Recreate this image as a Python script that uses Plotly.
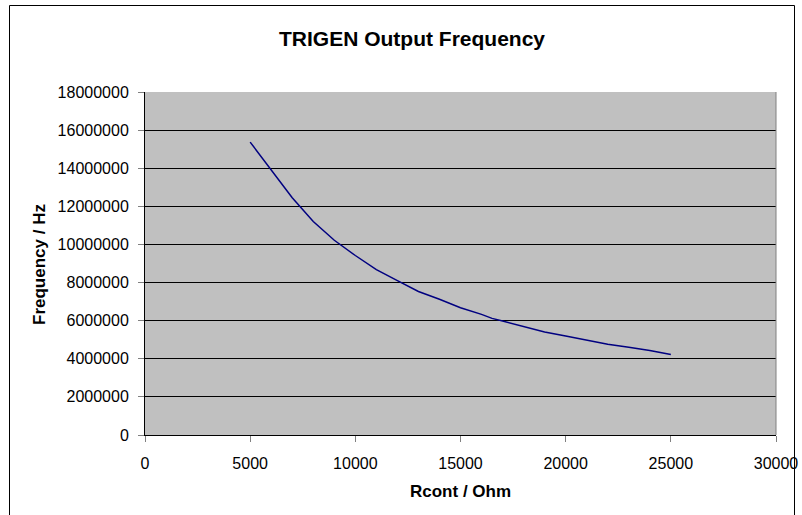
import plotly.graph_objects as go

# Data
rcont_ohm = [5000, 6000, 7000, 8000, 9000, 10000, 11000, 12000, 13000, 14000,
             15000, 16000, 16500, 17000, 18000, 19000, 20000, 21000, 22000,
             23000, 24000, 25000]
freq_hz = [15370000, 13920000, 12450000, 11200000, 10220000, 9420000, 8680000,
           8100000, 7530000, 7120000, 6680000, 6330000, 6120000, 5980000,
           5680000, 5410000, 5200000, 4970000, 4760000, 4600000, 4440000,
           4220000]

title_text = "TRIGEN Output Frequency"
x_title = "Rcont / Ohm"
y_title = "Frequency / Hz"
x_ticks = [0, 5000, 10000, 15000, 20000, 25000, 30000]
y_ticks = [0, 2000000, 4000000, 6000000, 8000000, 10000000, 12000000,
           14000000, 16000000, 18000000]

FONT = "Liberation Sans, Arial, sans-serif"

W, H = 802, 515
L, R, T, B = 145, 776, 92, 435
pw, ph = R - L, B - T


def px_x(p):
    return (p - L) / pw


def px_y(p):
    return (B - p) / ph


fig = go.Figure()
fig.add_trace(go.Scatter(x=rcont_ohm, y=freq_hz, mode="lines",
                         line=dict(color="#000080", width=1.5),
                         showlegend=False, hoverinfo="x+y"))

fig.update_layout(
    width=W, height=H,
    autosize=False,
    margin=dict(l=L, r=W - R, t=T, b=H - B, pad=0),
    paper_bgcolor="white",
    plot_bgcolor="#C0C0C0",
    font=dict(family=FONT, size=16, color="black"),
    showlegend=False,
)

fig.update_xaxes(range=[0, 30000], tickvals=x_ticks, tickformat="d",
                 showgrid=False, zeroline=False, automargin=False,
                 ticklabeloverflow="allow",
                 showline=True, linecolor="black", linewidth=1,
                 ticks="outside", ticklen=6, tickcolor="#808080", tickwidth=1,
                 ticklabelstandoff=8,
                 tickfont=dict(family=FONT, size=16, color="black"))
fig.update_yaxes(range=[0, 18000000], tickvals=y_ticks, tickformat="d",
                 showgrid=True, gridcolor="black", gridwidth=1,
                 zeroline=False, automargin=False,
                 ticklabeloverflow="allow",
                 showline=True, linecolor="black", linewidth=1,
                 ticks="outside", ticklen=6, tickcolor="#808080", tickwidth=1,
                 ticklabelstandoff=6,
                 tickfont=dict(family=FONT, size=16, color="black"))

# right border of plot area (gray)
fig.add_shape(type="line", xref="paper", yref="paper", x0=1, x1=1, y0=0, y1=1,
              line=dict(color="#808080", width=1))
# outer chart border
fig.add_shape(type="rect", xref="paper", yref="paper",
              x0=px_x(9.5), x1=px_x(794.5), y0=px_y(530), y1=px_y(5.5),
              line=dict(color="black", width=1), fillcolor="rgba(0,0,0,0)",
              layer="below")

fig.add_annotation(text="<b>%s</b>" % title_text, xref="paper", yref="paper",
                   x=px_x(412), y=px_y(38), showarrow=False,
                   xanchor="center", yanchor="middle",
                   font=dict(family=FONT, size=21, color="black"))
fig.add_annotation(text="<b>%s</b>" % x_title, xref="paper", yref="paper",
                   x=px_x(460), y=px_y(491), showarrow=False,
                   xanchor="center", yanchor="middle",
                   font=dict(family=FONT, size=17, color="black"))
fig.add_annotation(text="<b>%s</b>" % y_title, xref="paper", yref="paper",
                   x=px_x(39), y=px_y(265), showarrow=False, textangle=-90,
                   xanchor="center", yanchor="middle",
                   font=dict(family=FONT, size=17, color="black"))

fig.write_html(
    "out.html",
    config={"responsive": False, "displayModeBar": False},
    post_script="document.body.style.margin='0';document.body.style.padding='0';"
                "document.documentElement.style.overflow='hidden';",
)
